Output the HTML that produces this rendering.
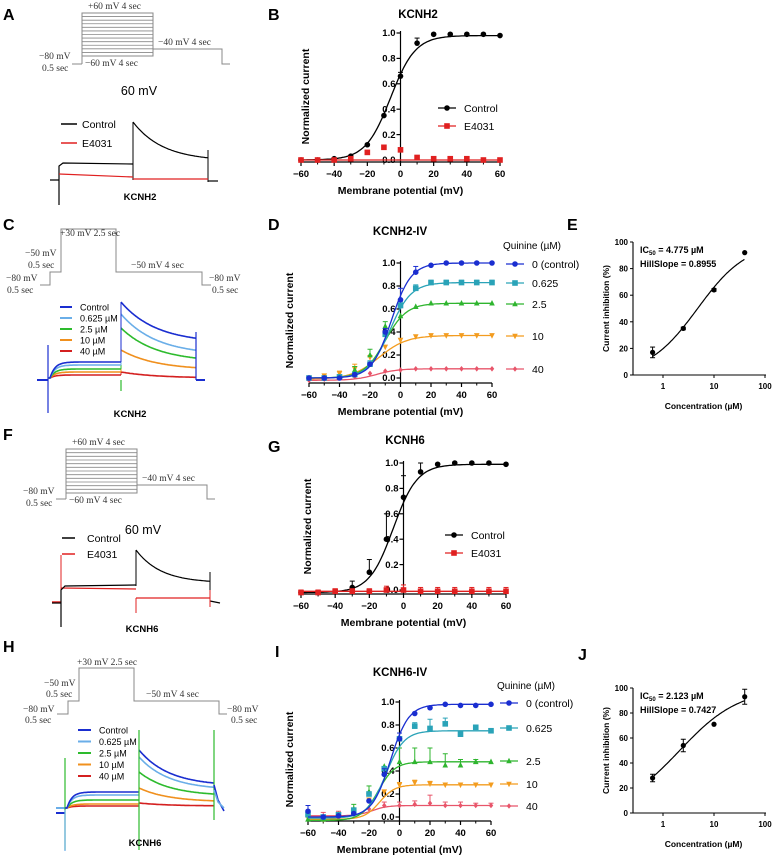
<!DOCTYPE html>
<html><head><meta charset="utf-8"><style>
html,body{margin:0;padding:0;background:#fff;}
svg{display:block;font-family:"Liberation Sans",sans-serif;}
</style></head><body>
<svg id="fig" width="782" height="858" viewBox="0 0 782 858" xmlns="http://www.w3.org/2000/svg"></svg>
<script>
// ---- data ----
const volts = [-60,-50,-40,-30,-20,-10,0,10,20,30,40,50,60];
const bControl = [0,0,0.01,0.03,0.12,0.35,0.66,0.92,0.99,0.99,0.99,0.99,0.98];
const bE4031 = [0,0,0,0.01,0.06,0.1,0.08,0.02,0.01,0.01,0.01,0,0];
const gControl = [-0.02,-0.02,-0.01,0.02,0.14,0.4,0.73,0.93,0.99,1,1,1,0.99];
const gE4031 = [-0.02,-0.02,-0.01,-0.01,-0.01,0.0,0.0,-0.01,-0.01,-0.01,-0.01,-0.01,-0.01];
const dCtrl = [0,0,0,0.03,0.12,0.4,0.68,0.92,0.98,1,1,1,1];
const d0625 = [0,0,0.01,0.03,0.12,0.38,0.63,0.78,0.83,0.83,0.83,0.83,0.83];
const d25 = [0,0,0.01,0.07,0.2,0.45,0.54,0.62,0.65,0.65,0.65,0.65,0.65];
const d10 = [0,0.02,0.04,0.08,0.18,0.27,0.33,0.36,0.37,0.37,0.37,0.37,0.37];
const d40 = [-0.02,-0.01,0,0.01,0.04,0.06,0.07,0.08,0.08,0.08,0.08,0.08,0.08];
const iCtrl = [0.05,0,0.01,0.03,0.14,0.37,0.68,0.9,0.95,0.98,0.97,0.97,0.98];
const i0625 = [0.02,0,0.02,0.06,0.2,0.42,0.68,0.79,0.77,0.81,0.72,0.78,0.75];
const i25 = [-0.02,-0.02,0.02,0.07,0.22,0.44,0.48,0.48,0.48,0.45,0.45,0.48,0.48];
const i10 = [-0.01,-0.02,0,0.04,0.15,0.22,0.28,0.3,0.29,0.28,0.28,0.28,0.28];
const i40 = [0.01,-0.01,0,0.03,0.07,0.1,0.1,0.11,0.12,0.1,0.1,0.1,0.1];
const quinineLabels = ["0 (control)","0.625","2.5","10","40"];
const concs = [0.625,2.5,10,40];
const eInhib = [17,35,64,92];
const eErr = [4,1,1,0];
const jInhib = [28,54,71,93];
const jErr = [3,5,0,6];
const eFit = [4.775,0.8955];
const jFit = [2.123,0.7427];
const yTicks = [0,0.2,0.4,0.6,0.8,1.0];
const xTicks = [-60,-40,-20,0,20,40,60];
const pctTicks = [0,20,40,60,80,100];
const logTicks = [1,10,100];

const NS="http://www.w3.org/2000/svg";
const svg=document.getElementById('fig');
function mk(tag,attrs,name,parent){
  const e=document.createElementNS(NS,tag);
  for(const k in attrs)e.setAttribute(k,attrs[k]);
  
  
  (parent||svg).appendChild(e);return e;
}
function ln(x1,y1,x2,y2,c,w,name){return mk('line',{x1,y1,x2,y2,stroke:c,'stroke-width':w||1},name);}
function tx(x,y,s,o,name){o=o||{};const e=mk('text',{x,y,'font-size':o.fs||9,'font-weight':o.fw||'normal','text-anchor':o.a||'start',fill:o.c||'#000','font-family':o.ff||'"Liberation Sans",sans-serif'},name);if(o.rot)e.setAttribute('transform','rotate(-90 '+x+' '+y+')');e.textContent=s;return e;}
function pl(pts,c,w,name){return mk('polyline',{points:pts.map(p=>p[0].toFixed(1)+','+p[1].toFixed(1)).join(' '),fill:'none',stroke:c,'stroke-width':w||1},name);}
function marker(type,x,y,c,name,s){s=s||2.8;
  if(type==='o')return mk('circle',{cx:x,cy:y,r:s,fill:c},name);
  if(type==='s')return mk('rect',{x:x-s,y:y-s,width:2*s,height:2*s,fill:c},name);
  if(type==='^')return mk('polygon',{points:`${x},${y-s-0.5} ${x-s},${y+s-0.5} ${x+s},${y+s-0.5}`,fill:c},name);
  if(type==='v')return mk('polygon',{points:`${x},${y+s+0.5} ${x-s},${y-s+0.5} ${x+s},${y-s+0.5}`,fill:c},name);
  return mk('polygon',{points:`${x},${y-s} ${x+s*0.8},${y} ${x},${y+s} ${x-s*0.8},${y}`,fill:c},name);
}
const panelLab=(x,y,s)=>tx(x,y,s,{fs:16,fw:'bold'},'panel-label-'+s.toLowerCase());
const serif='"Liberation Serif",serif';
function ptxt(x,y,s){return tx(x,y,s,{fs:9.5,ff:serif,c:'#333'},'protocol-label');}

// ---- IV plot ----
function ivPlot(cfg){
  const X=v=>cfg.x0+(v+60)/120*(cfg.x1-cfg.x0);
  const Y=v=>cfg.y0+v*(cfg.y1-cfg.y0);
  const ax=X(0), axB=cfg.y0+cfg.off;
  ln(X(-60),axB,X(60),axB,'#000',1.2,'x-axis');
  ln(ax,Y(1)-2,ax,axB,'#000',1.2,'y-axis');
  xTicks.forEach(t=>{ln(X(t),axB,X(t),axB+4,'#000',1.2,'x-tick');tx(X(t),axB+15,(t<0?'\u2212':'')+Math.abs(t),{fs:9.5,fw:'bold',a:'middle'},'x-tick-label');});
  volts.forEach(t=>{if(t%20)ln(X(t),axB,X(t),axB+2.5,'#000',1,'x-minor-tick');});
  yTicks.forEach(t=>{ln(ax-4,Y(t),ax,Y(t),'#000',1.2,'y-tick');tx(ax-5,Y(t)+3.2,t.toFixed(1),{fs:9.5,fw:'bold',a:'end'},'y-tick-label');});
  tx((X(-60)+X(60))/2,axB+32,'Membrane potential (mV)',{fs:10.5,fw:'bold',a:'middle'},'x-axis-title');
  tx(cfg.ylx,(Y(0)+Y(1))/2,'Normalized current',{fs:10.5,fw:'bold',a:'middle',rot:true},'y-axis-title');
  tx(cfg.tx,cfg.ty,cfg.title,{fs:11.5,fw:'bold',a:'middle'},'chart-title');
  cfg.series.forEach((s,si)=>{
    const top=s.data[s.data.length-1], base=s.base||0;
    const pts=[];for(let v=-60;v<=60;v+=1){pts.push([X(v),Y(base+(top-base)/(1+Math.exp((s.v50-v)/s.k)))]);}
    pl(pts,s.c,1.3,'fit-curve-'+si);
    s.data.forEach((d,i)=>{
      if(s.err){const e=s.err[i]||0;if(e>0){ln(X(volts[i]),Y(d),X(volts[i]),Y(d+e),s.c,1,'error-bar');ln(X(volts[i])-2.5,Y(d+e),X(volts[i])+2.5,Y(d+e),s.c,1,'error-cap');}}
      marker(s.m,X(volts[i]),Y(d),s.c,'data-point');
    });
  });
}
function leg(x,y,c,m,label,fs){ln(x,y,x+18,y,c,1.3,'legend-line');marker(m,x+9,y,c,'legend-marker');tx(x+26,y+4,label,{fs:fs||10.5},'legend-label');}

// ---- log dose plot ----
function dosePlot(cfg,data,err,fit){
  const X=c=>cfg.x1+Math.log10(c)*cfg.dec;
  const Y=p=>cfg.y0+p/100*(cfg.y100-cfg.y0);
  ln(cfg.ax,cfg.y0,766,cfg.y0,'#000',1.1,'x-axis');
  ln(cfg.ax,cfg.y0,cfg.ax,Y(100),'#000',1.1,'y-axis');
  pctTicks.forEach(t=>{ln(cfg.ax-3,Y(t),cfg.ax,Y(t),'#000',1,'y-tick');tx(cfg.ax-5,Y(t)+3,String(t),{fs:8,fw:'bold',a:'end'},'y-tick-label');});
  logTicks.forEach(t=>{ln(X(t),cfg.y0,X(t),cfg.y0+3,'#000',1,'x-tick');tx(X(t),cfg.y0+14,String(t),{fs:8,fw:'bold',a:'middle'},'x-tick-label');});
  tx((cfg.ax+766)/2+4,cfg.y0+34,'Concentration (\u00b5M)',{fs:8.5,fw:'bold',a:'middle'},'x-axis-title');
  tx(cfg.ax-24,(Y(0)+Y(100))/2,'Current inhibition (%)',{fs:8.5,fw:'bold',a:'middle',rot:true},'y-axis-title');
  const pts=[];for(let l=Math.log10(0.625);l<=Math.log10(40)+0.001;l+=0.02){const c=Math.pow(10,l);pts.push([X(c),Y(100/(1+Math.pow(fit[0]/c,fit[1])))]);}
  pl(pts,'#000',1.2,'fit-curve');
  data.forEach((d,i)=>{const x=X(concs[i]);if(err[i]>0){ln(x,Y(d-err[i]),x,Y(d+err[i]),'#000',1,'error-bar');ln(x-2.5,Y(d+err[i]),x+2.5,Y(d+err[i]),'#000',1,'error-cap');ln(x-2.5,Y(d-err[i]),x+2.5,Y(d-err[i]),'#000',1,'error-cap');}marker('o',x,Y(d),'#000','data-point',2.6);});
  const t1=tx(cfg.ax+7,Y(100)+11,'IC',{fs:9,fw:'bold'},'ic50-label');
  const ts=mk('tspan',{'font-size':6,dy:2},'ic50-subscript',t1);ts.textContent='50';
  const ts2=mk('tspan',{dy:-2},'ic50-value',t1);ts2.textContent=' = '+fit[0]+' \u00b5M';
  tx(cfg.ax+7,Y(100)+25,'HillSlope = '+fit[1],{fs:9,fw:'bold'},'hillslope-label');
}

// ---- step protocol (A,F) ----
function stepProto(p){
  ln(p.bx0-10,p.base,p.bx0,p.base,'#888',1,'protocol-line');
  mk('rect',{x:p.bx0,y:p.top,width:p.bx1-p.bx0,height:p.bot-p.top,fill:'none',stroke:'#888','stroke-width':1},'protocol-box');
  for(let y=p.top;y<=p.bot;y+=(p.bot-p.top)/12)ln(p.bx0,y,p.bx1,y,'#888',0.8,'protocol-step');
  ln(p.bx0,p.bot,p.bx0,p.base,'#888',1,'protocol-line');
  pl([[p.bx1,p.tail],[p.ex,p.tail],[p.ex,p.base],[p.ex+8,p.base]],'#888',1,'protocol-tail');
  ptxt(p.bx0+6,p.top-4,'+60 mV   4 sec');
  ptxt(p.bx0-43,p.base-5,'\u221280 mV');
  ptxt(p.bx0-40,p.base+7,'0.5 sec');
  ptxt(p.bx0+3,p.bot+10,'\u221260 mV   4 sec');
  ptxt(p.bx1+5,p.tail-4,'\u221240 mV 4 sec');
}
function multiProto(p){
  pl([[p.x0,p.b],[p.x1,p.b],[p.x1,p.m],[p.x2,p.m],[p.x2,p.t],[p.x3,p.t],[p.x3,p.m],[p.x4,p.m],[p.x4,p.b],[p.x5,p.b]],'#888',1,'protocol-line');
}
function decay(x0,x1,y0,y1,tau){const pts=[];for(let x=x0;x<=x1;x+=1){const f=Math.exp(-(x-x0)/tau);pts.push([x,y1+(y0-y1)*f]);}return pts;}

// ================= Panel A =================
panelLab(3,20,'A');
stepProto({bx0:82,bx1:153,top:13,bot:56,base:64,tail:49,ex:222});
tx(139,95,'60 mV',{fs:12.5,a:'middle'},'voltage-title');
ln(61,124,77,124,'#000',1.5,'legend-line');tx(82,128,'Control',{fs:10.5},'legend-label');
ln(61,143,77,143,'#e02020',1.5,'legend-line');tx(82,147,'E4031',{fs:10.5},'legend-label');
pl([[50,180],[59,180],[59,205],[59,166],[63,163],[133,164]],'#000',1.2,'trace-control');
pl(decay(133,208,122,161,30),'#000',1.2,'trace-control');
ln(133,122,133,180,'#000',1,'trace-control');ln(208,150,208,182,'#000',1,'trace-control');ln(208,181,218,181,'#000',1.2,'trace-control');
pl([[59,174],[133,177]],'#e02020',1.2,'trace-e4031');pl([[133,179],[208,179]],'#e02020',1.2,'trace-e4031');
tx(140,200,'KCNH2',{fs:9.5,fw:'bold',a:'middle'},'trace-caption');

// ================= Panel B =================
panelLab(268,20,'B');
ivPlot({x0:301,x1:500,y0:160,y1:33,off:2,ylx:309,tx:418,ty:18,title:'KCNH2',
  series:[{data:bControl,c:'#000',m:'o',v50:-6,k:7.5,err:[0,0,0,0,0,0,0.03,0.04,0,0,0,0,0]},
          {data:bE4031,c:'#e02020',m:'s',v50:-200,k:5}]});
leg(438,108,'#000','o','Control');leg(438,126,'#e02020','s','E4031');

// ================= Panel C =================
panelLab(3,230,'C');
multiProto({x0:40,x1:50,x2:61,x3:116,x4:202,x5:211,b:285,m:272,t:229});
ptxt(60,236,'+30 mV 2.5 sec');ptxt(25,256,'\u221250 mV');ptxt(28,268,'0.5 sec');
ptxt(6,281,'\u221280 mV');ptxt(7,293,'0.5 sec');ptxt(131,268,'\u221250 mV 4 sec');
ptxt(209,281,'\u221280 mV');ptxt(212,293,'0.5 sec');
const cCols=['#1a2ed0','#6aaee8','#2dbb2d','#f0901e','#d42020'];
const cLabels=['Control','0.625 \u00b5M','2.5 \u00b5M','10 \u00b5M','40 \u00b5M'];
const cPre=[362,365,369,372,375], cPk=[302,314,328,350,372], cEnd=[340,352,359,367,375];
cLabels.forEach((l,i)=>{const y=307+i*11;ln(60,y,72,y,cCols[i],2,'legend-line');tx(80,y+3.5,l,{fs:9},'legend-label');});
ln(37,380,48,380,'#1a2ed0',2,'trace-baseline');ln(196,380,205,380,'#1a2ed0',2,'trace-baseline');
ln(48,345,48,413,'#1a2ed0',1.2,'trace-artifact');ln(121,380,121,391,'#2dbb2d',1.2,'trace-artifact');
for(let i=4;i>=0;i--){pl([[48,378]].concat(decay(50,121,378,cPre[i],5)),cCols[i],1.6,'trace-'+i);pl(decay(121,196,cPk[i],cEnd[i]+3,35),cCols[i],1.6,'trace-'+i);ln(121,cPk[i],121,cPre[i],cCols[i],1,'trace-'+i);}
ln(196,332,196,380,'#1a2ed0',1.2,'trace-artifact');
tx(130,417,'KCNH2',{fs:9.5,fw:'bold',a:'middle'},'trace-caption');

// ================= Panel D =================
const ivCols=['#1a2ed0','#2aa3b8','#2fb52f','#f39c1f','#e8556a'];
const ivMk=['o','s','^','v','d'];
panelLab(268,230,'D');
ivPlot({x0:309,x1:492,y0:378,y1:263,off:5,ylx:293,tx:400,ty:235,title:'KCNH2-IV',
  series:[{data:d40,c:ivCols[4],m:'d',v50:-16,k:7,base:-0.02},{data:d10,c:ivCols[3],m:'v',v50:-14,k:9,base:-0.01,err:[0,0,0.02,0.04,0,0,0,0,0,0,0,0,0]},
    {data:d25,c:ivCols[2],m:'^',v50:-10,k:7,err:[0,0,0,0.03,0.05,0.04,0,0,0,0,0,0,0]},{data:d0625,c:ivCols[1],m:'s',v50:-7,k:7,err:[0,0,0,0,0.03,0,0.03,0.03,0.02,0.02,0.02,0.02,0.02]},
    {data:dCtrl,c:ivCols[0],m:'o',v50:-6,k:6.5,err:[0,0,0,0,0,0.03,0.1,0.05,0,0,0,0,0]}]});
tx(503,249,'Quinine (\u00b5M)',{fs:10},'legend-title');
[264,283,304,336,369].forEach((y,i)=>leg(506,y,ivCols[i],ivMk[i],quinineLabels[i]));

// ================= Panel E =================
panelLab(567,230,'E');
dosePlot({ax:633,x1:663,dec:51,y0:375,y100:242},eInhib,eErr,eFit);

// ================= Panel F =================
panelLab(3,440,'F');
stepProto({bx0:66,bx1:137,top:449,bot:493,base:499,tail:485,ex:207});
tx(143,534,'60 mV',{fs:12.5,a:'middle'},'voltage-title');
ln(62,538,75,538,'#000',1.5,'legend-line');tx(87,542,'Control',{fs:10.5},'legend-label');
ln(62,554,75,554,'#e02020',1.5,'legend-line');tx(87,558,'E4031',{fs:10.5},'legend-label');
pl([[52,602],[61,602]],'#e02020',1.5,'trace-e4031');ln(61,555,61,602,'#e02020',1,'trace-e4031');
pl([[61,588],[136,589]],'#e02020',1.2,'trace-e4031');ln(136,598,136,613,'#e02020',1,'trace-e4031');pl([[136,598],[210,598]],'#e02020',1.2,'trace-e4031');
pl([[52,603],[61,603],[61,627],[61,590],[65,586],[136,585]],'#000',1.2,'trace-control');
ln(136,550,136,586,'#000',1,'trace-control');pl(decay(136,210,550,583,25),'#000',1.2,'trace-control');
ln(210,572,210,607,'#000',1,'trace-control');pl([[210,601],[220,603]],'#000',1.2,'trace-control');ln(210,590,210,607,'#e02020',1,'trace-e4031');
tx(142,632,'KCNH6',{fs:9.5,fw:'bold',a:'middle'},'trace-caption');

// ================= Panel G =================
panelLab(268,452,'G');
ivPlot({x0:301,x1:506,y0:590,y1:463,off:4,ylx:311,tx:405,ty:444,title:'KCNH6',
  series:[{data:gControl,c:'#000',m:'o',v50:-6,k:7,base:-0.02,err:[0.02,0.01,0.01,0.05,0.1,0.2,0.17,0.07,0,0,0,0,0]},
          {data:gE4031,c:'#e02020',m:'s',v50:-200,k:5,err:[0.02,0.02,0.02,0.02,0.02,0.03,0.04,0.03,0.03,0.03,0.03,0.03,0.03]}]});
leg(445,535,'#000','o','Control');leg(445,553,'#e02020','s','E4031');

// ================= Panel H =================
panelLab(3,652,'H');
multiProto({x0:57,x1:68,x2:79,x3:134,x4:219,x5:227,b:714,m:701,t:668});
ptxt(77,665,'+30 mV 2.5 sec');ptxt(44,686,'\u221250 mV');ptxt(46,697,'0.5 sec');
ptxt(23,712,'\u221280 mV');ptxt(25,723,'0.5 sec');ptxt(146,697,'\u221250 mV 4 sec');
ptxt(227,712,'\u221280 mV');ptxt(231,723,'0.5 sec');
const hPre=[792,795,800,804,806], hPk=[750,757,772,788,803], hEnd=[784,788,794,800,804];
cLabels.forEach((l,i)=>{const y=730+i*11.5;ln(78,y,91,y,cCols[i],2,'legend-line');tx(99,y+3.5,l,{fs:9},'legend-label');});
ln(56,813,65,813,'#1a2ed0',2,'trace-baseline');ln(56,808,65,808,'#6aaee8',2,'trace-baseline');
ln(65,758,65,850,'#2dbb2d',1.2,'trace-artifact');ln(65,810,65,851,'#6aaee8',1.2,'trace-artifact');
for(let i=4;i>=0;i--){pl([[65,808]].concat(decay(67,139,808,hPre[i],5)),cCols[i],1.6,'trace-'+i);pl(decay(139,214,hPk[i],hEnd[i]+2,30),cCols[i],1.6,'trace-'+i);}
ln(139,730,139,850,'#2dbb2d',1.2,'trace-artifact');ln(214,730,214,820,'#2dbb2d',1.2,'trace-artifact');
pl([[214,785],[218,800],[224,811]],'#1a2ed0',1.6,'trace-tail');pl([[214,790],[218,802],[224,808]],'#6aaee8',1.6,'trace-tail');
tx(145,846,'KCNH6',{fs:9.5,fw:'bold',a:'middle'},'trace-caption');

// ================= Panel I =================
tx(275,657,'I',{fs:16,fw:'bold'},'panel-label-i');
ivPlot({x0:308,x1:491,y0:817,y1:702,off:4,ylx:293,tx:400,ty:676,title:'KCNH6-IV',
  series:[{data:i40,c:ivCols[4],m:'d',v50:-18,k:5,base:0.01,err:[0,0.05,0.05,0,0,0.03,0.03,0.03,0.07,0.03,0.03,0.02,0.02]},{data:i10,c:ivCols[3],m:'v',v50:-13,k:5,base:-0.02,err:[0,0,0,0,0,0,0.02,0.02,0.02,0,0,0,0]},
    {data:i25,c:ivCols[2],m:'^',v50:-14,k:5.5,base:-0.03,err:[0,0,0,0.04,0.05,0,0.12,0.12,0.12,0.1,0.05,0.02,0]},{data:i0625,c:ivCols[1],m:'s',v50:-9,k:6,base:-0.01,err:[0,0,0,0,0,0,0,0.03,0.08,0.05,0,0,0]},
    {data:iCtrl,c:ivCols[0],m:'o',v50:-6,k:6,base:0,err:[0.05,0,0,0,0,0.05,0.05,0,0,0,0,0,0]}]});
tx(497,689,'Quinine (\u00b5M)',{fs:10},'legend-title');
[703,728,761,784,806].forEach((y,i)=>leg(500,y,ivCols[i],ivMk[i],quinineLabels[i]));

// ================= Panel J =================
tx(578,660,'J',{fs:16,fw:'bold'},'panel-label-j');
dosePlot({ax:633,x1:663,dec:51,y0:813,y100:688},jInhib,jErr,jFit);
</script>
</body></html>
